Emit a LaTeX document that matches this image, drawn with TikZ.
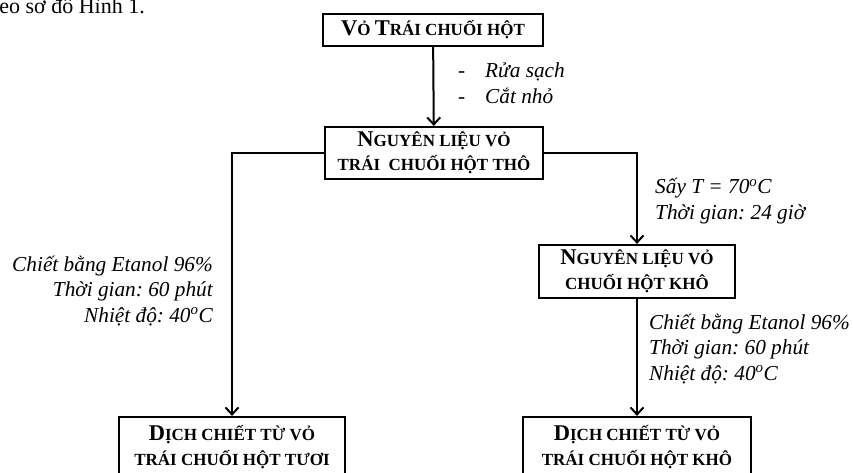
\documentclass[tikz,border=0pt]{standalone}
\usepackage{fontspec}
\setmainfont{Liberation Serif}
\usetikzlibrary{arrows.meta}
\frenchspacing
\newcommand{\BC}[1]{{\fontsize{22.5}{25}\selectfont #1}}
\tikzset{
  box/.style={draw, line width=2.2pt, align=center, inner sep=0pt,
    font=\fontsize{17}{24.5}\selectfont\bfseries},
  arr/.style={line width=2pt, -{Straight Barb[length=7pt,width=13pt,line width=2pt]}},
  lbl/.style={inner sep=0pt, font=\fontsize{21.3}{25.5}\selectfont\itshape},
  toptext/.style={inner sep=0pt, font=\fontsize{22}{25}\selectfont}
}
\begin{document}
\begin{tikzpicture}[x=1pt,y=-1pt]
\useasboundingbox (0,0) rectangle (853,473);
\clip (0,0) rectangle (853,473);
\node[toptext, anchor=base east] (cap) at (145,14) {theo sơ đồ Hình 1.};
\node[box, minimum width=220pt, minimum height=32pt] (b1) at (433,30) {\BC{V}Ỏ \BC{T}RÁI CHUỐI HỘT};
\node[box, minimum width=218pt, minimum height=52pt] (b2) at (434,153) {\BC{N}GUYÊN LIỆU VỎ\\TRÁI\ \ CHUỐI HỘT THÔ};
\node[box, minimum width=196pt, minimum height=53pt] (b3) at (637,271.5) {\BC{N}GUYÊN LIỆU VỎ\\CHUỐI HỘT KHÔ};
\node[box, minimum width=226pt, minimum height=60pt] (b4) at (232,447) {\BC{D}ỊCH CHIẾT TỪ VỎ\\TRÁI CHUỐI HỘT TƯƠI};
\node[box, minimum width=228pt, minimum height=60pt] (b5) at (637,447) {\BC{D}ỊCH CHIẾT TỪ VỎ\\TRÁI CHUỐI HỘT KHÔ};
\draw[arr] (b1) -- (b2);
\draw[arr] (b2.west) -| (b4.north);
\draw[arr] (b2.east) -| (b3.north);
\draw[arr] (b3) -- (b5);
\node[lbl, anchor=west, align=left] (l1) at (458,83) {\makebox[27pt][l]{\upshape -}Rửa sạch\\\makebox[27pt][l]{\upshape -}Cắt nhỏ};
\node[lbl, anchor=west, align=left] (l2) at (655,201) {Sấy T = 70\textsuperscript{o}C\\Thời gian: 24 giờ};
\node[lbl, anchor=east, align=right] (l3) at (213,291) {Chiết bằng Etanol 96\%\\Thời gian: 60 phút\\Nhiệt độ: 40\textsuperscript{o}C};
\node[lbl, anchor=west, align=left] (l4) at (649,349) {Chiết bằng Etanol 96\%\\Thời gian: 60 phút\\Nhiệt độ: 40\textsuperscript{o}C};
\end{tikzpicture}
\end{document}
